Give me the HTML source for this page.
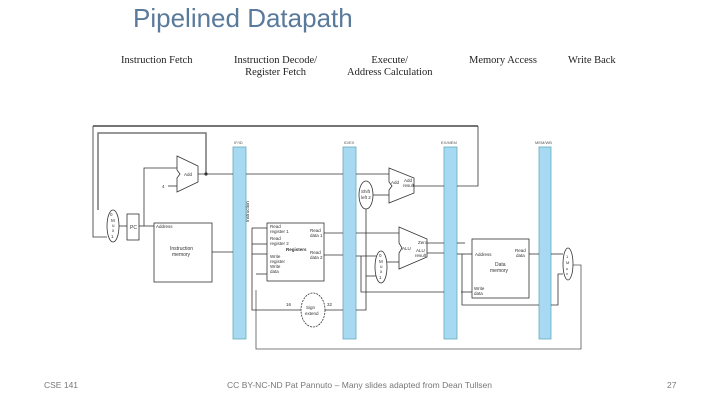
<!DOCTYPE html>
<html><head><style>
body{margin:0;width:720px;height:405px;background:#fff;overflow:hidden;position:relative;font-family:"Liberation Sans",sans-serif}
.t{position:absolute;white-space:nowrap}
.h{font-family:"Liberation Serif",serif;font-size:10.5px;color:#222;text-align:center;line-height:12px}
</style></head><body>
<div class="t" style="left:133px;top:3px;font-size:26px;color:#5a7a9c">Pipelined Datapath</div>
<div class="t h" style="left:121px;top:55px">Instruction Fetch</div>
<div class="t h" style="left:234px;top:55px">Instruction Decode/<br>Register Fetch</div>
<div class="t h" style="left:347px;top:55px">Execute/<br>Address Calculation</div>
<div class="t h" style="left:469px;top:55px">Memory Access</div>
<div class="t h" style="left:568px;top:55px">Write Back</div>
<svg width="720" height="405" style="position:absolute;left:0;top:0" font-family="Liberation Sans" font-size="4" fill="none" stroke="#333" stroke-width="0.8">
<line x1="93" y1="126" x2="478" y2="126" stroke="#222" stroke-width="1.2"/>
<g fill="#a7daf2" stroke="#6ab">
<rect x="233" y="147" width="13" height="192"/>
<rect x="343" y="147" width="13" height="192"/>
<rect x="444" y="147" width="13" height="192"/>
<rect x="539" y="147" width="12" height="192"/>
</g>
<g fill="#555" stroke="none" font-size="4">
<text x="234" y="144">IF/ID</text><text x="344" y="144">ID/EX</text><text x="441" y="144">EX/MEM</text><text x="535" y="144">MEM/WB</text>
</g>
<polyline points="98,210 98,133 206,133 206,173" stroke="#777" stroke-width="1.5"/>
<polyline points="457,186 478,186 478,126" stroke="#333"/>
<polyline points="256,290 256,349 581,349 581,265 573,265" stroke="#555"/>
<polyline points="93,126 93,237 107,237"/>
<ellipse cx="113" cy="226" rx="6" ry="16" fill="#fff"/>
<rect x="127" y="214" width="12" height="26" fill="#fff"/>
<rect x="154" y="223" width="58" height="59" fill="#fff"/>
<polygon points="177,156 198,166 198,182 177,192 177,178 180,174 177,170" fill="#fff"/>
<polyline points="119,226 127,226"/><polyline points="139,226 154,226"/>
<polyline points="144,226 144,168 177,168"/><polyline points="168,186 177,186"/>
<polyline points="198,174 233,174"/><polyline points="246,174 343,174"/>
<polyline points="212,252 233,252"/>
<circle cx="206" cy="174" r="1.2" fill="#333"/>
<g fill="#333" stroke="none" font-size="4.5">
<text x="110" y="216">0</text><text x="111" y="222">M</text><text x="112" y="227">u</text><text x="112" y="232">x</text><text x="111" y="238">1</text>
<text x="130" y="229" font-size="5">PC</text><text x="156" y="228">Address</text>
<text x="170" y="250" font-size="5">Instruction</text><text x="172" y="256" font-size="5">memory</text>
<text x="184" y="176">Add</text><text x="162" y="188">4</text>
</g>
<rect x="267" y="223" width="57" height="58" fill="#fff"/>
<ellipse cx="313" cy="310" rx="12" ry="17" fill="#fff" stroke-dasharray="2,1"/>
<polyline points="252,228 267,228"/><polyline points="252,244 267,244"/><polyline points="252,254 267,254"/>
<polyline points="252,228 252,310 301,310"/><polyline points="325,310 343,310"/>
<polyline points="256,274 267,274"/>
<polyline points="324,233 343,233"/><polyline points="324,255 343,255"/>
<g fill="#333" stroke="none" font-size="4.5">
<text x="270" y="228">Read</text><text x="270" y="233">register 1</text>
<text x="270" y="240">Read</text><text x="270" y="245">register 2</text>
<text x="286" y="251" font-weight="bold">Registers</text>
<text x="270" y="258">Write</text><text x="270" y="263">register</text>
<text x="270" y="268">Write</text><text x="270" y="273">data</text>
<text x="310" y="232">Read</text><text x="310" y="237">data 1</text>
<text x="310" y="254">Read</text><text x="310" y="259">data 2</text>
<text x="306" y="309">Sign</text><text x="305" y="315">extend</text>
<text x="286" y="306">16</text><text x="327" y="306">32</text>
<text x="249" y="222" transform="rotate(-90 249 222)">Instruction</text>
</g>
<ellipse cx="366" cy="195" rx="7" ry="14" fill="#fff"/>
<polygon points="389,168 414,178 414,193 389,203 389,190 392,186 389,182" fill="#fff"/>
<polygon points="399,227 427,239 427,257 399,269 399,253 402,248 399,243" fill="#fff"/>
<ellipse cx="381" cy="267" rx="6" ry="16" fill="#fff"/>
<polyline points="356,174 389,174"/><polyline points="373,195 389,195"/>
<polyline points="366,209 366,310 356,310"/><polyline points="366,276 376,276"/>
<polyline points="414,186 444,186"/>
<polyline points="356,233 399,233"/><polyline points="356,256 376,256"/><polyline points="387,262 399,262"/>
<polyline points="361,256 361,292 444,292"/>
<polyline points="427,243 444,243"/><polyline points="427,253 444,253"/>
<g fill="#333" stroke="none" font-size="4.5">
<text x="361" y="193">Shift</text><text x="361" y="199">left 2</text>
<text x="391" y="184">Add</text><text x="404" y="182">Add</text><text x="403" y="187">result</text>
<text x="402" y="250">ALU</text><text x="418" y="244">Zero</text><text x="416" y="252">ALU</text><text x="415" y="257">result</text>
<text x="379" y="257">0</text><text x="379" y="263">M</text><text x="380" y="268">u</text><text x="380" y="273">x</text><text x="379" y="279">1</text>
</g>
<rect x="472" y="239" width="57" height="59" fill="#fff"/>
<polyline points="457,243 465,243"/><polyline points="457,254 472,254"/>
<polyline points="462,254 462,305 539,305"/><polyline points="461,292 472,292"/>
<polyline points="529,254 539,254"/>
<polyline points="551,254 563,254"/><polyline points="551,305 558,305 558,274 563,274"/>
<g fill="#333" stroke="none" font-size="4.5">
<text x="475" y="256">Address</text><text x="515" y="252">Read</text><text x="516" y="257">data</text>
<text x="495" y="266" font-size="5">Data</text><text x="490" y="272" font-size="5">memory</text>
<text x="474" y="290">Write</text><text x="474" y="295">data</text>
</g>
<ellipse cx="568" cy="264" rx="5" ry="16" fill="#fff"/>
<g fill="#333" stroke="none" font-size="4"><text x="566" y="258">1</text><text x="566" y="264">M</text><text x="566" y="270">u</text><text x="566" y="275">x</text></g>
<g fill="#777" stroke="none" font-size="8.5">
<text x="44" y="388">CSE 141</text>
<text x="227" y="388" textLength="265">CC BY-NC-ND Pat Pannuto – Many slides adapted from Dean Tullsen</text>
<text x="667" y="388">27</text>
</g>
</svg>
</body></html>
